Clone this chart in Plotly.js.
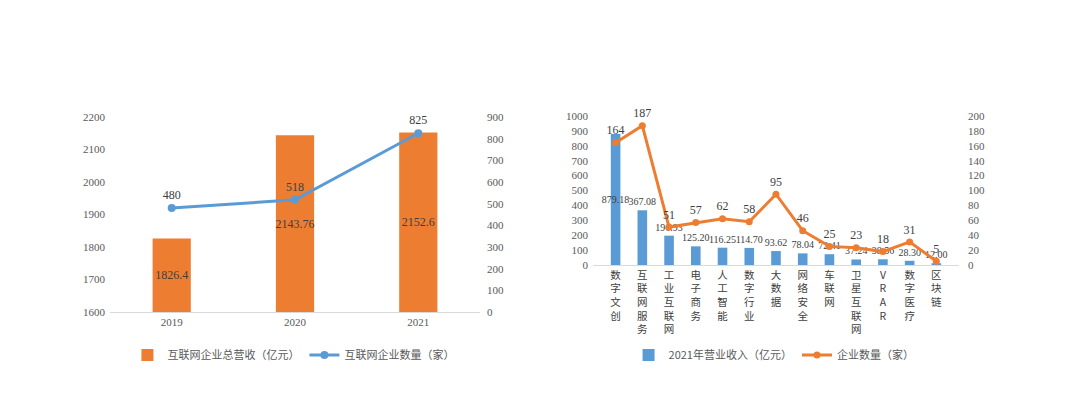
<!DOCTYPE html>
<html>
<head>
<meta charset="utf-8">
<script src="https://cdn.plot.ly/plotly-3.0.1.min.js"></script>
<style>html,body{margin:0;padding:0;background:#fff;}#chart{width:1080px;height:396px;}</style>
</head>
<body>
<div id="chart"></div>
<script>
// Left chart data
const years = ['2019', '2020', '2021'];
const revenue = [1826.4, 2143.76, 2152.6];
const revenueLabels = ['1826.4', '2143.76', '2152.6'];
const companyCount = [480, 518, 825];

// Right chart data
const sectors = ['数字文创', '互联网服务', '工业互联网', '电子商务', '人工智能', '数字行业', '大数据', '网络安全', '车联网', '卫星互联网', 'VR/AR', '数字医疗', '区块链'];
const income2021 = [879.18, 367.08, 196.93, 125.20, 116.25, 114.70, 93.62, 78.04, 72.41, 37.24, 38.56, 28.30, 12.00];
const sectorCount = [164, 187, 51, 57, 62, 58, 95, 46, 25, 23, 18, 31, 5];

const serif = 'Liberation Serif, Times New Roman, serif';
const cjk = 'Noto Sans CJK SC, sans-serif';
const orange = '#ED7D31';
const blue = '#5B9BD5';
const tickColor = '#595959';

const leftBase = 1600;
const sectorTicks = sectors.map(s => s.replace('/', '').split('').join('<br>'));

const traces = [
  {
    type: 'bar', x: years, y: revenue.map(v => v - leftBase), base: leftBase,
    xaxis: 'x', yaxis: 'y', name: '互联网企业总营收（亿元）',
    marker: {color: orange}, width: 0.31,
    text: revenueLabels, textposition: 'inside', insidetextanchor: 'middle',
    textangle: 0, constraintext: 'none',
    textfont: {family: serif, size: 12, color: '#404040'},
    legend: 'legend', hoverinfo: 'skip'
  },
  {
    type: 'scatter', mode: 'lines+markers+text', x: years, y: companyCount,
    xaxis: 'x', yaxis: 'y2', name: '互联网企业数量（家）',
    line: {color: blue, width: 3}, marker: {color: blue, size: 8},
    text: companyCount.map(String), textposition: 'top center',
    textfont: {family: serif, size: 12, color: '#404040'},
    legend: 'legend', cliponaxis: false
  },
  {
    type: 'bar', x: sectors, y: income2021,
    xaxis: 'x2', yaxis: 'y3', name: '2021年营业收入（亿元）',
    marker: {color: blue}, width: 0.36,
    text: income2021.map(v => v.toFixed(2)),
    textposition: income2021.map((v, i) => i === 0 ? 'inside' : 'outside'),
    insidetextanchor: 'middle', constraintext: 'none', textangle: 0,
    textfont: {family: serif, size: 10, color: '#404040'},
    legend: 'legend2', cliponaxis: false
  },
  {
    type: 'scatter', mode: 'lines+markers+text', x: sectors, y: sectorCount,
    xaxis: 'x2', yaxis: 'y4', name: '企业数量（家）',
    line: {color: orange, width: 3}, marker: {color: orange, size: 7},
    text: sectorCount.map(String), textposition: 'top center',
    textfont: {family: serif, size: 12, color: '#404040'},
    legend: 'legend2', cliponaxis: false
  }
];

const layout = {
  width: 1080, height: 396,
  margin: {l: 0, r: 0, t: 0, b: 0},
  paper_bgcolor: '#fff', plot_bgcolor: 'rgba(0,0,0,0)',
  showlegend: true,
  barmode: 'overlay',
  xaxis: {
    domain: [0.1019, 0.4444], anchor: 'y', type: 'category',
    showline: true, linecolor: '#d9d9d9', linewidth: 1,
    showgrid: false, ticks: '',
    tickfont: {family: serif, size: 11, color: tickColor}, fixedrange: true
  },
  yaxis: {
    domain: [0.2121, 0.7045], anchor: 'x', range: [1600, 2200], dtick: 100,
    showgrid: false, zeroline: false, showline: false, ticks: '',
    tickfont: {family: serif, size: 11, color: tickColor}, ticklabelstandoff: 4
  },
  yaxis2: {
    overlaying: 'y', side: 'right', anchor: 'x', range: [0, 900], dtick: 100,
    showgrid: false, zeroline: false, showline: false, ticks: '',
    tickfont: {family: serif, size: 11, color: tickColor}, ticklabelstandoff: 6
  },
  xaxis2: {
    domain: [0.549, 0.888], anchor: 'y3', type: 'category',
    showline: true, linecolor: '#d9d9d9', linewidth: 1,
    showgrid: false, ticks: '', tickmode: 'array', tickvals: sectors, ticktext: sectorTicks,
    tickangle: 0,
    tickfont: {family: cjk, size: 10.5, color: '#404040'}
  },
  yaxis3: {
    domain: [0.3308, 0.7071], anchor: 'x2', range: [0, 1000], dtick: 100,
    showgrid: false, zeroline: false, showline: false, ticks: '',
    tickfont: {family: serif, size: 11, color: tickColor}, ticklabelstandoff: 4
  },
  yaxis4: {
    overlaying: 'y3', side: 'right', anchor: 'x2', range: [0, 200], dtick: 20,
    showgrid: false, zeroline: false, showline: false, ticks: '',
    tickfont: {family: serif, size: 11, color: tickColor}, ticklabelstandoff: 8
  },
  legend: {
    orientation: 'h', x: 0.118, y: 0.1035, xanchor: 'left', yanchor: 'middle',
    font: {family: cjk, size: 11, color: tickColor}, itemwidth: 30, tracegroupgap: 0,
    bgcolor: 'rgba(0,0,0,0)'
  },
  legend2: {
    orientation: 'h', x: 0.582, y: 0.1035, xanchor: 'left', yanchor: 'middle',
    font: {family: cjk, size: 11, color: tickColor}, itemwidth: 30,
    bgcolor: 'rgba(0,0,0,0)'
  }
};

Plotly.newPlot('chart', traces, layout, {displayModeBar: false, staticPlot: true});
</script>
</body>
</html>
